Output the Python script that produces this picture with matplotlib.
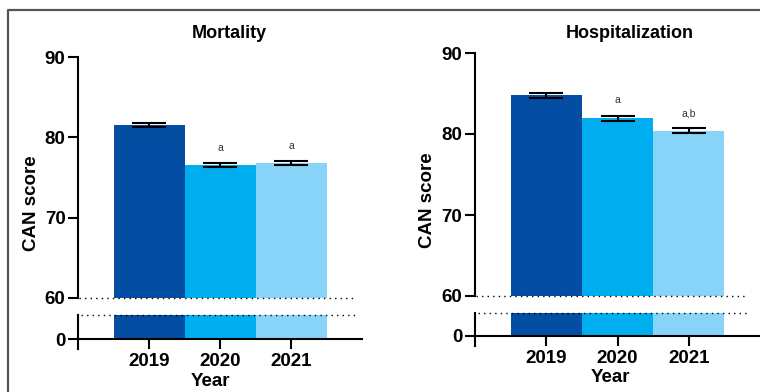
import matplotlib
matplotlib.use("Agg")
import matplotlib.pyplot as plt
from matplotlib.lines import Line2D
import numpy as np

plt.rcParams['font.family'] = ['Liberation Sans', 'DejaVu Sans']
plt.rcParams['font.weight'] = 'bold'

years = ['2019', '2020', '2021']
bar_colors = ['#034ea2', '#00aeef', '#87d4f8']

mortality_mean = [81.5, 76.55, 76.8]
mortality_sem = [0.25, 0.28, 0.27]
mortality_letters = ['', 'a', 'a']

hosp_mean = [84.8, 81.95, 80.4]
hosp_sem = [0.3, 0.3, 0.3]
hosp_letters = ['', 'a', 'a,b']

y_ticks_upper = [60, 70, 80, 90]

W, H = 760, 392


def px_rect(x0, y_top, x1, y_bottom):
    # pixel box (from top-left) -> figure fraction rect
    return [x0 / W, 1 - y_bottom / H, (x1 - x0) / W, (y_bottom - y_top) / H]


def style_axis(ax):
    for side in ['top', 'right']:
        ax.spines[side].set_visible(False)
    ax.spines['left'].set_linewidth(1.5)
    ax.tick_params(axis='y', direction='out', length=7, width=1.5,
                   labelsize=13.5, pad=2)


def draw_panel(fig, means, sems, letters, upper_box, lower_box, dot_end):
    x = np.arange(len(years))

    ax_up = fig.add_axes(px_rect(*upper_box))
    ax_lo = fig.add_axes(px_rect(*lower_box))

    for ax in (ax_up, ax_lo):
        ax.bar(x, means, width=1.0, color=bar_colors, bottom=0, zorder=1)
        ax.set_xlim(-1, 3)
        style_axis(ax)

    # upper part of the broken axis
    ax_up.set_ylim(60, 90)
    ax_up.set_yticks(y_ticks_upper)
    ax_up.spines['bottom'].set_visible(False)
    ax_up.set_xticks([])
    ax_up.errorbar(x, means, yerr=sems, fmt='none', ecolor='black',
                   elinewidth=1.5, capsize=12, capthick=1.5, zorder=3)
    for xi, m, s, lab in zip(x, means, sems, letters):
        if lab:
            ax_up.annotate(lab, (xi, m + s), xytext=(0, 11),
                           textcoords='offset points', ha='center', va='center',
                           fontsize=7.5, fontweight='normal', color='#333333')
    ax_up.axhline(60, xmin=0.005, xmax=dot_end, color='black', lw=1.0,
                  linestyle=(0, (1, 3)), clip_on=False)

    # lower part with the zero baseline
    px_h = lower_box[3] - lower_box[1]
    ax_lo.set_ylim(-10, px_h - 10)
    ax_lo.set_yticks([0])
    ax_lo.spines['bottom'].set_position(('data', 0))
    ax_lo.spines['bottom'].set_linewidth(1.5)
    ax_lo.set_xticks(x)
    ax_lo.set_xticklabels(years)
    ax_lo.tick_params(axis='x', direction='out', length=7, width=1.5,
                      labelsize=13.5, pad=3)
    ax_lo.axhline(px_h - 10, xmin=0.01, xmax=dot_end + 0.005, color='black',
                  lw=1.0, linestyle=(0, (1, 3)), clip_on=False)
    return ax_up, ax_lo


fig = plt.figure(figsize=(W / 100, H / 100), dpi=100)

draw_panel(fig, mortality_mean, mortality_sem, mortality_letters,
           (78, 57, 362, 298), (78, 315, 362, 349), 0.97)
draw_panel(fig, hosp_mean, hosp_sem, hosp_letters,
           (475, 53, 760, 296), (475, 313, 760, 346), 0.955)

fig.text(229 / W, 1 - 33 / H, 'Mortality', ha='center', va='center', fontsize=13)
fig.text(630 / W, 1 - 33 / H, 'Hospitalization', ha='center', va='center', fontsize=13)
fig.text(32 / W, 1 - 203 / H, 'CAN score', rotation=90, ha='center', va='center', fontsize=13.5)
fig.text(428 / W, 1 - 200 / H, 'CAN score', rotation=90, ha='center', va='center', fontsize=13.5)
fig.text(210 / W, 1 - 381 / H, 'Year', ha='center', va='center', fontsize=13.5)
fig.text(610 / W, 1 - 378 / H, 'Year', ha='center', va='center', fontsize=13.5)

# surrounding frame (left and top edges)
frame = Line2D([8 / W, 8 / W, 1.0], [0.0, 1 - 10 / H, 1 - 10 / H],
               transform=fig.transFigure, color='#555555', lw=1.6)
fig.add_artist(frame)

fig.savefig('out.png', dpi=100)
